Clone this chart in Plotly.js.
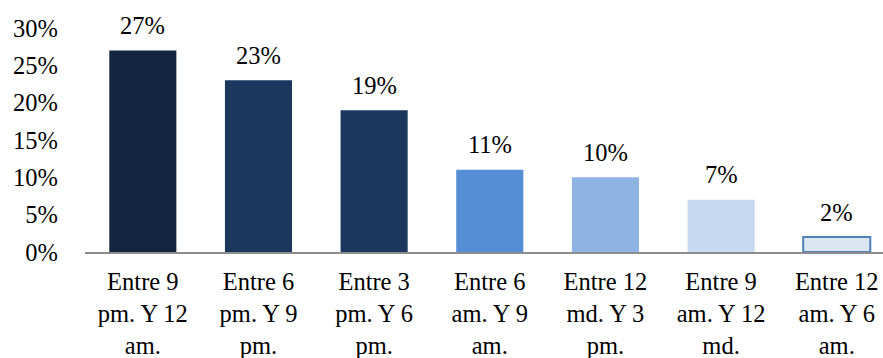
<!DOCTYPE html>
<html>
<head>
<meta charset="utf-8">
<script src="https://cdn.plot.ly/plotly-3.0.1.min.js"></script>
<style>
  html, body { margin: 0; padding: 0; background: #ffffff; }
  #chart { width: 883px; height: 358px; }
</style>
</head>
<body>
<div id="chart"></div>
<script>
// Time slots (category labels, wrapped over three lines)
const categories = [
  "Entre 9<br>pm. Y 12<br>am.",
  "Entre 6<br>pm. Y 9<br>pm.",
  "Entre 3<br>pm. Y 6<br>pm.",
  "Entre 6<br>am. Y 9<br>am.",
  "Entre 12<br>md. Y 3<br>pm.",
  "Entre 9<br>am. Y 12<br>md.",
  "Entre 12<br>am. Y 6<br>am."
];
// Share of responses per time slot, in percent
const values = [27, 23, 19, 11, 10, 7, 2];
// Fill and outline of each bar
const barColors = ["#13263f", "#1b375e", "#1b375e", "#558ed5", "#8eb4e3", "#c6d9f1", "#dce6f2"];
const barLines = ["#13263f", "#1b375e", "#1b375e", "#558ed5", "#8eb4e3", "#c6d9f1", "#4f81bd"];
const lineWidths = [0, 0, 0, 0, 0, 0, 2];
// Y axis ticks
const yTicks = [0, 5, 10, 15, 20, 25, 30];
const yTickText = yTicks.map(v => v + "%");

const font = { family: "Liberation Serif, Times New Roman, serif", size: 24.5, color: "#000000" };

const trace = {
  type: "bar",
  x: categories,
  y: values,
  width: 0.58,
  marker: {
    color: barColors,
    line: { color: barLines, width: lineWidths }
  },
  hoverinfo: "skip"
};

// Value labels above each bar
const labels = categories.map((c, i) => ({
  x: c,
  y: values[i],
  xref: "x",
  yref: "y",
  text: values[i] + "%",
  showarrow: false,
  yanchor: "middle",
  yshift: 25,
  font: font
}));

const layout = {
  width: 883,
  height: 358,
  margin: { l: 85, r: 0, t: 28, b: 106, pad: 0 },
  paper_bgcolor: "#ffffff",
  plot_bgcolor: "#ffffff",
  font: font,
  showlegend: false,
  bargap: 0.42,
  xaxis: {
    type: "category",
    range: [-0.5, 6.4],
    showline: true,
    linecolor: "#8c8c8c",
    linewidth: 2,
    ticks: "",
    showgrid: false,
    zeroline: false,
    tickangle: 0,
    tickfont: font,
    ticklabelstandoff: 7
  },
  yaxis: {
    range: [0, 30],
    tickvals: yTicks,
    ticktext: yTickText,
    showline: false,
    ticks: "",
    showgrid: false,
    zeroline: false,
    tickfont: font,
    ticklabelstandoff: 26
  },
  annotations: labels
};

Plotly.newPlot("chart", [trace], layout, { staticPlot: true, displayModeBar: false });
</script>
</body>
</html>
